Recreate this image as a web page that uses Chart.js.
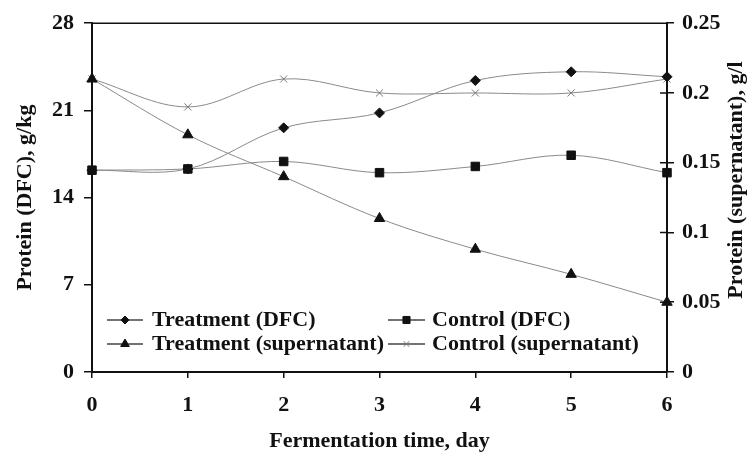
<!DOCTYPE html>
<html lang="en">
<head>
    <meta charset="UTF-8">
    <title>Protein during fermentation</title>
    <script src="https://cdn.jsdelivr.net/npm/chart.js"></script>
    <style>
        html, body { margin: 0; padding: 0; background: #fff; }
        .chart-box { width: 747px; height: 455px; position: relative; }
    </style>
</head>
<body>
    <div class="chart-box">
        <canvas id="proteinChart"></canvas>
    </div>
    <script>
        // values
        const days = ['0', '1', '2', '3', '4', '5', '6'];
        const treatmentDFC = [16.2, 16.3, 19.6, 20.8, 23.4, 24.1, 23.7];
        const controlDFC = [16.2, 16.3, 16.9, 16.0, 16.5, 17.4, 16.0];
        const treatmentSup = [0.21, 0.17, 0.14, 0.11, 0.088, 0.07, 0.05];
        const controlSup = [0.21, 0.19, 0.21, 0.2, 0.2, 0.2, 0.21];

        const leftTicks = [0, 7, 14, 21, 28];
        const rightTicks = [0, 0.05, 0.1, 0.15, 0.2, 0.25];

        const serif = 'Liberation Serif';
        const boldFont = { family: serif, size: 22, weight: 'bold' };

        const lineGray = '#8a8a8a';
        const markBlack = '#111';

        function series(label, data, axis, style, radius, markColor) {
            return {
                label: label,
                data: data,
                yAxisID: axis,
                borderColor: lineGray,
                borderWidth: 1,
                tension: 0.35,
                pointStyle: style,
                pointRadius: radius,
                pointBackgroundColor: markColor,
                pointBorderColor: markColor,
                pointBorderWidth: 1,
                clip: false
            };
        }

        // legend drawn inside the plot area, two columns as in the figure
        const innerLegend = {
            id: 'innerLegend',
            afterDraw(chart) {
                const ctx = chart.ctx;
                const rows = [320, 344];
                const cols = [{ x0: 107, x1: 143, tx: 152 }, { x0: 388, x1: 425, tx: 432 }];
                chart.data.datasets.forEach((ds, i) => {
                    const c = cols[i % 2];
                    const y = rows[Math.floor(i / 2)];
                    ctx.save();
                    ctx.strokeStyle = '#444';
                    ctx.lineWidth = 1.5;
                    ctx.beginPath();
                    ctx.moveTo(c.x0, y);
                    ctx.lineTo(c.x1, y);
                    ctx.stroke();
                    ctx.fillStyle = ds.pointBackgroundColor;
                    ctx.strokeStyle = ds.pointBorderColor;
                    ctx.lineWidth = 1;
                    Chart.helpers.drawPoint(ctx, {
                        pointStyle: ds.pointStyle,
                        radius: ds.pointRadius - 1,
                        rotation: 0,
                        borderWidth: 1
                    }, (c.x0 + c.x1) / 2, y);
                    ctx.fillStyle = '#111';
                    ctx.font = 'bold 22px "' + serif + '"';
                    ctx.textAlign = 'left';
                    ctx.textBaseline = 'middle';
                    ctx.fillText(ds.label, c.tx, y);
                    ctx.restore();
                });
            }
        };

        // top frame line, inner half of right ticks, right axis title read bottom-up
        const frameBits = {
            id: 'frameBits',
            afterDraw(chart) {
                const ctx = chart.ctx;
                const a = chart.chartArea;
                const yr = chart.scales.y1;
                ctx.save();
                ctx.strokeStyle = '#111';
                ctx.lineWidth = 1.5;
                ctx.beginPath();
                ctx.moveTo(a.left, a.top);
                ctx.lineTo(a.right, a.top);
                yr.ticks.forEach(t => {
                    const py = yr.getPixelForValue(t.value);
                    ctx.moveTo(a.right - 7, py);
                    ctx.lineTo(a.right, py);
                });
                ctx.stroke();
                ctx.translate(736, 180);
                ctx.rotate(-Math.PI / 2);
                ctx.fillStyle = '#111';
                ctx.font = 'bold 22px "' + serif + '"';
                ctx.textAlign = 'center';
                ctx.textBaseline = 'middle';
                ctx.fillText('Protein (supernatant), g/l', 0, 0);
                ctx.restore();
            }
        };

        const ctx = document.getElementById('proteinChart').getContext('2d');
        new Chart(ctx, {
            type: 'line',
            data: {
                labels: days,
                datasets: [
                    series('Treatment (DFC)', treatmentDFC, 'y', 'rectRot', 5, markBlack),
                    series('Control (DFC)', controlDFC, 'y', 'rect', 6, markBlack),
                    series('Treatment (supernatant)', treatmentSup, 'y1', 'triangle', 6, markBlack),
                    series('Control (supernatant)', controlSup, 'y1', 'crossRot', 5, '#777')
                ]
            },
            options: {
                responsive: true,
                maintainAspectRatio: false,
                animation: false,
                layout: { padding: { top: 16, left: 0, right: 0, bottom: 0 } },
                plugins: {
                    legend: { display: false },
                    tooltip: { enabled: false }
                },
                scales: {
                    x: {
                        offset: false,
                        afterFit: s => { s.height = 83; },
                        grid: { drawOnChartArea: false, color: '#111', tickLength: 6, lineWidth: 1.5 },
                        border: { color: '#111', width: 2 },
                        ticks: { color: '#111', font: boldFont, padding: 14, maxRotation: 0 },
                        title: {
                            display: true,
                            text: 'Fermentation time, day',
                            color: '#111',
                            font: boldFont,
                            padding: 0
                        }
                    },
                    y: {
                        position: 'left',
                        min: 0,
                        max: 28,
                        afterFit: s => { s.width = 92; },
                        afterBuildTicks: s => { s.ticks = leftTicks.map(v => ({ value: v })); },
                        grid: { drawOnChartArea: false, color: '#111', tickLength: 8, lineWidth: 1.5 },
                        border: { color: '#111', width: 2 },
                        ticks: { color: '#111', font: boldFont, padding: 10 },
                        title: {
                            display: true,
                            text: 'Protein (DFC), g/kg',
                            color: '#111',
                            font: boldFont,
                            padding: { top: 12 }
                        }
                    },
                    y1: {
                        position: 'right',
                        min: 0,
                        max: 0.25,
                        afterFit: s => { s.width = 80; },
                        afterBuildTicks: s => { s.ticks = rightTicks.map(v => ({ value: v })); },
                        grid: { drawOnChartArea: false, color: '#111', tickLength: 7, lineWidth: 1.5 },
                        border: { color: '#111', width: 2 },
                        ticks: {
                            color: '#111',
                            font: boldFont,
                            padding: 8,
                            callback: v => String(parseFloat(v.toFixed(2)))
                        }
                    }
                }
            },
            plugins: [innerLegend, frameBits]
        });
    </script>
</body>
</html>
